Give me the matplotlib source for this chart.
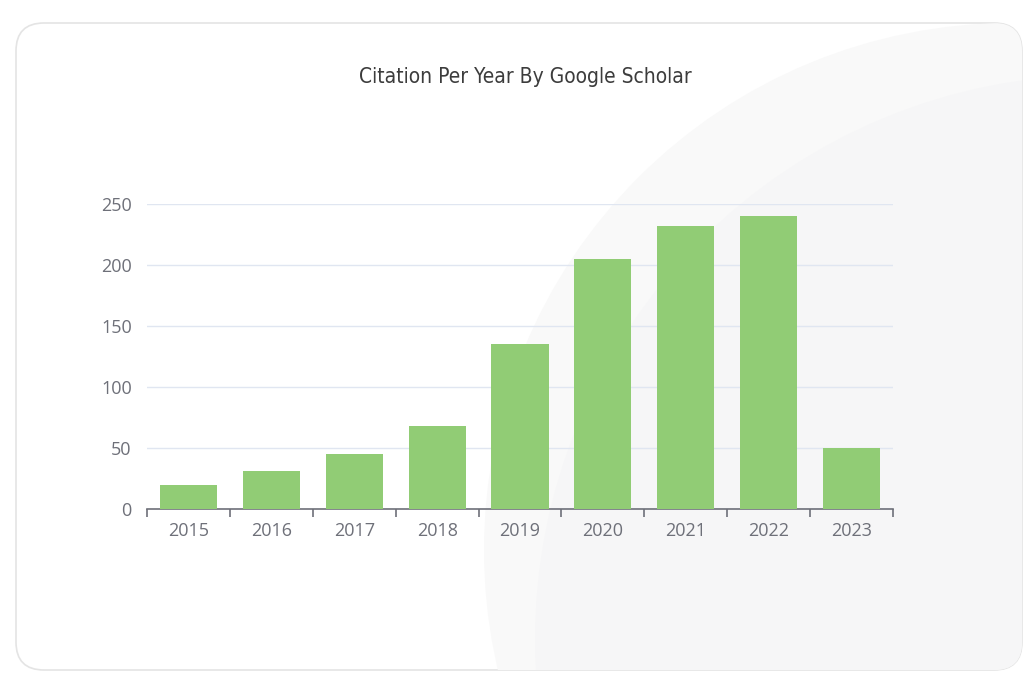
import numpy as np
import matplotlib
matplotlib.use("Agg")
import matplotlib.pyplot as plt
from matplotlib.patches import FancyBboxPatch, Circle

# citation counts
years = ["2015", "2016", "2017", "2018", "2019", "2020", "2021", "2022", "2023"]
citations = [20, 31, 45, 68, 135, 205, 232, 240, 50]
yticks = [0, 50, 100, 150, 200, 250]

fig = plt.figure(figsize=(10.25, 6.76), dpi=100)
fig.patch.set_facecolor("white")

# card background with rounded border
bg = fig.add_axes([0, 0, 1, 1])
bg.set_xlim(0, 1025)
bg.set_ylim(676, 0)
bg.axis("off")
card = FancyBboxPatch((16, 23), 1006, 647, boxstyle="round,pad=0,rounding_size=28",
                      facecolor="white", edgecolor="#e4e4e4", linewidth=1.2)
bg.add_patch(card)
# soft grey shapes on the right side
for cx, cy, r, c in [(1011, 550, 527, "#f9f9f9"), (1100, 640, 565, "#f6f6f7")]:
    circ = Circle((cx, cy), r, facecolor=c, edgecolor="none")
    circ.set_clip_path(card)
    bg.add_patch(circ)

bg.text(525, 77, "Citation Per Year By Google Scholar", ha="center", va="center",
        fontsize=15, fontstretch="condensed", color="#3c3c3c", family=["DejaVu Sans"])

ax = fig.add_axes([147 / 1025, 1 - 509 / 676, (893 - 147) / 1025, (509 - 204) / 676])
ax.patch.set_alpha(0)

x = np.arange(len(years))
ax.bar(x, citations, width=0.69, color="#91cc75", zorder=3)

ax.set_xlim(-0.5, len(years) - 0.5)
ax.set_ylim(0, 250)
ax.set_yticks(yticks)
ax.set_xticks(x)
ax.set_xticklabels(years)
ax.set_xticks(np.arange(len(years) + 1) - 0.5, minor=True)

for s in ["top", "right", "left"]:
    ax.spines[s].set_visible(False)
ax.spines["bottom"].set_color("#6e7079")
ax.spines["bottom"].set_linewidth(1.2)

ax.grid(axis="y", color="#e0e6f1", linewidth=1, zorder=0)
ax.tick_params(axis="y", length=0, pad=11, labelsize=13, labelcolor="#6e7079")
ax.tick_params(axis="x", which="major", length=0, pad=9.5, labelsize=13, labelcolor="#6e7079")
ax.tick_params(axis="x", which="minor", length=6, width=1.2, color="#6e7079", direction="out")
for lbl in ax.get_xticklabels() + ax.get_yticklabels():
    lbl.set_family(["Open Sans", "DejaVu Sans"])

fig.savefig("out.png", dpi=100)
